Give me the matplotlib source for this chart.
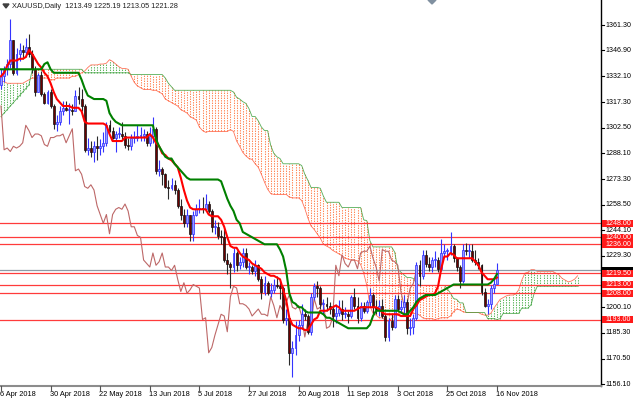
import numpy as np
import pandas as pd
import matplotlib
matplotlib.use("Agg")
import matplotlib.pyplot as plt
from matplotlib import transforms
from matplotlib.patches import Rectangle, Polygon
from matplotlib.lines import Line2D

plt.rcParams['font.family'] = ['Liberation Sans', 'DejaVu Sans']

# XAUUSD daily bars, 6 Apr 2018 .. 16 Nov 2018
dates = pd.bdate_range('2018-04-06', periods=161)

opens = [
    1327, 1332, 1336, 1339, 1353, 1334, 1345, 1347, 1346, 1349,
    1345, 1336, 1323, 1333, 1322, 1317, 1323, 1315, 1305, 1306,
    1312, 1314, 1313, 1313, 1312, 1321, 1319, 1315, 1290, 1291,
    1289, 1292, 1291, 1292, 1294, 1304, 1301, 1297, 1299, 1299,
    1298, 1293, 1292, 1297, 1297, 1298, 1298, 1299, 1294, 1298,
    1302, 1278, 1279, 1276, 1269, 1268, 1270, 1267, 1258, 1253,
    1248, 1253, 1242, 1253, 1256, 1257, 1256, 1259, 1255, 1246,
    1246, 1241, 1240, 1227, 1225, 1223, 1231, 1224, 1226, 1231,
    1223, 1223, 1221, 1224, 1216, 1209, 1214, 1208, 1210, 1213,
    1212, 1211, 1193, 1194, 1174, 1177, 1184, 1190, 1196, 1195,
    1186, 1206, 1212, 1211, 1202, 1202, 1201, 1199, 1195, 1197,
    1199, 1196, 1196, 1195, 1206, 1201, 1194, 1201, 1198, 1203,
    1207, 1200, 1199, 1201, 1195, 1183, 1192, 1189, 1205, 1199,
    1200, 1203, 1188, 1189, 1194, 1224, 1218, 1230, 1225, 1223,
    1227, 1227, 1222, 1231, 1232, 1232, 1235, 1228, 1223, 1215,
    1233, 1232, 1232, 1227, 1226, 1224, 1209, 1201, 1202, 1211,
    1213.49]
highs = [
    1336, 1338, 1342, 1365, 1353, 1348, 1351, 1350, 1354, 1356,
    1347, 1338, 1334, 1335, 1323, 1324, 1325, 1316, 1310, 1315,
    1318, 1318, 1317, 1316, 1324, 1326, 1325, 1316, 1297, 1295,
    1295, 1298, 1296, 1300, 1306, 1307, 1303, 1301, 1303, 1306,
    1300, 1297, 1299, 1301, 1304, 1303, 1302, 1301, 1303, 1309,
    1303, 1284, 1280, 1277, 1273, 1274, 1273, 1268, 1262, 1256,
    1256, 1253, 1255, 1259, 1262, 1263, 1265, 1261, 1256, 1250,
    1249, 1244, 1245, 1231, 1226, 1234, 1232, 1229, 1234, 1234,
    1226, 1224, 1227, 1225, 1218, 1218, 1215, 1214, 1216, 1218,
    1215, 1212, 1199, 1194, 1181, 1192, 1193, 1202, 1199, 1196,
    1208, 1214, 1215, 1212, 1205, 1206, 1203, 1201, 1202, 1204,
    1204, 1200, 1198, 1207, 1211, 1206, 1203, 1203, 1204, 1211,
    1208, 1204, 1204, 1205, 1196, 1194, 1196, 1207, 1207, 1204,
    1207, 1205, 1194, 1196, 1226, 1227, 1233, 1233, 1229, 1229,
    1232, 1229, 1239, 1236, 1234, 1243, 1236, 1229, 1224, 1236,
    1237, 1236, 1236, 1233, 1228, 1225, 1211, 1205, 1213, 1216,
    1225.19]
lows = [
    1325, 1329, 1333, 1337, 1333, 1333, 1341, 1342, 1343, 1343,
    1334, 1321, 1323, 1321, 1316, 1316, 1314, 1302, 1301, 1304,
    1310, 1312, 1305, 1310, 1312, 1316, 1312, 1289, 1287, 1286,
    1283, 1284, 1287, 1289, 1292, 1300, 1296, 1289, 1297, 1296,
    1291, 1290, 1290, 1294, 1295, 1295, 1295, 1292, 1292, 1294,
    1276, 1275, 1270, 1268, 1262, 1267, 1265, 1257, 1250, 1246,
    1246, 1238, 1238, 1252, 1254, 1254, 1255, 1254, 1243, 1242,
    1239, 1236, 1226, 1219, 1211, 1220, 1221, 1222, 1223, 1222,
    1219, 1219, 1218, 1215, 1205, 1207, 1207, 1206, 1208, 1211,
    1205, 1191, 1190, 1167, 1160, 1173, 1181, 1188, 1193, 1185,
    1184, 1204, 1206, 1199, 1196, 1198, 1196, 1189, 1191, 1195,
    1193, 1194, 1191, 1194, 1199, 1191, 1192, 1197, 1197, 1200,
    1196, 1196, 1195, 1194, 1181, 1181, 1187, 1188, 1198, 1197,
    1196, 1185, 1184, 1185, 1193, 1212, 1216, 1223, 1221, 1220,
    1223, 1220, 1221, 1229, 1227, 1230, 1226, 1221, 1211, 1214,
    1230, 1228, 1226, 1224, 1222, 1207, 1200, 1196, 1199, 1208,
    1213.05]
closes = [
    1332, 1336, 1339, 1353, 1334, 1345, 1347, 1346, 1349, 1345,
    1336, 1323, 1333, 1322, 1317, 1323, 1315, 1305, 1306, 1312,
    1314, 1313, 1313, 1312, 1321, 1319, 1315, 1290, 1291, 1289,
    1292, 1291, 1292, 1294, 1304, 1301, 1297, 1299, 1299, 1298,
    1293, 1292, 1297, 1297, 1298, 1298, 1299, 1294, 1298, 1302,
    1278, 1279, 1276, 1269, 1268, 1270, 1267, 1258, 1253, 1248,
    1253, 1242, 1253, 1256, 1257, 1256, 1259, 1255, 1246, 1246,
    1241, 1240, 1227, 1225, 1223, 1231, 1224, 1226, 1231, 1223,
    1223, 1221, 1224, 1216, 1209, 1214, 1208, 1210, 1213, 1212,
    1211, 1193, 1194, 1174, 1177, 1184, 1190, 1196, 1195, 1186,
    1206, 1212, 1211, 1202, 1202, 1201, 1199, 1195, 1197, 1199,
    1196, 1196, 1195, 1206, 1201, 1194, 1201, 1198, 1203, 1207,
    1200, 1199, 1201, 1195, 1183, 1192, 1189, 1205, 1199, 1200,
    1203, 1188, 1189, 1194, 1224, 1218, 1230, 1225, 1223, 1227,
    1227, 1222, 1231, 1232, 1232, 1235, 1228, 1223, 1215, 1233,
    1232, 1232, 1227, 1226, 1224, 1209, 1201, 1202, 1211, 1213.49,
    1221.28]

# Ichimoku lines
tenkan = [
    1332, 1334, 1338, 1341, 1341, 1341, 1342, 1342, 1343, 1347,
    1345, 1342, 1339, 1337, 1334, 1332, 1328, 1323, 1319, 1317,
    1315, 1315, 1315, 1314, 1314, 1314, 1312, 1306, 1305, 1305,
    1305, 1305, 1305, 1305, 1304, 1299, 1295, 1295, 1295, 1295,
    1297, 1297, 1297, 1297, 1297, 1297, 1297, 1297, 1299, 1297,
    1294, 1292, 1288, 1287, 1285, 1284, 1282, 1280, 1274, 1267,
    1261, 1257, 1256, 1256, 1256, 1256, 1256, 1253, 1252, 1252,
    1252, 1250, 1246, 1240, 1235, 1234, 1234, 1231, 1229, 1228,
    1227, 1225, 1224, 1223, 1222, 1220, 1219, 1218, 1218, 1217,
    1216, 1210, 1204, 1194, 1190, 1189, 1188, 1188, 1187, 1187,
    1190, 1193, 1194, 1198, 1198, 1198, 1199, 1200, 1201, 1200,
    1198, 1198, 1198, 1198, 1198, 1199, 1200, 1200, 1200, 1200,
    1200, 1200, 1199, 1197, 1196, 1196, 1196, 1196, 1196, 1195,
    1195, 1195, 1195, 1199, 1201, 1204, 1205, 1206, 1207, 1207,
    1208, 1212, 1222, 1229, 1229, 1231, 1230, 1228, 1228, 1228,
    1228, 1228, 1228, 1226, 1224, 1220, 1218, 1216, 1216, 1216,
    1217]
kijun = [
    1336, 1336, 1336, 1336, 1336, 1336, 1336, 1336, 1336, 1336,
    1336, 1336, 1336, 1336, 1339, 1340, 1336, 1334, 1334, 1334,
    1334, 1334, 1334, 1334, 1334, 1334, 1330, 1325, 1321, 1320,
    1319, 1319, 1319, 1319, 1318, 1311, 1308, 1306, 1305, 1304,
    1304, 1304, 1304, 1304, 1304, 1304, 1304, 1304, 1304, 1304,
    1296, 1292, 1289, 1286, 1285, 1285, 1282, 1280, 1278, 1276,
    1274, 1273, 1273, 1273, 1273, 1273, 1273, 1273, 1273, 1273,
    1273, 1272, 1267, 1262, 1258, 1255, 1250, 1248, 1243, 1242,
    1241, 1240, 1239, 1238, 1237, 1236, 1236, 1236, 1236, 1236,
    1233, 1229, 1221, 1208, 1203, 1202, 1200, 1200, 1198, 1197,
    1197, 1197, 1197, 1197, 1196, 1194, 1194, 1193, 1192, 1191,
    1190, 1189, 1188, 1188, 1188, 1188, 1188, 1188, 1188, 1190,
    1195, 1198, 1198, 1198, 1198, 1198, 1198, 1198, 1198, 1197,
    1196, 1196, 1198, 1200, 1203, 1205, 1206, 1207, 1207, 1207,
    1207, 1208, 1209, 1210, 1211, 1212, 1213, 1213, 1213, 1213,
    1213, 1213, 1213, 1213, 1213, 1213, 1213, 1213, 1214, 1216,
    1219]
# cloud spans, they run 26 bars past the last candle
span_a = [
    1329, 1329, 1328, 1328, 1328, 1328, 1328, 1328, 1329, 1330,
    1331, 1331, 1331, 1331, 1331, 1331, 1330, 1330, 1331, 1331,
    1331, 1331, 1331, 1332, 1332, 1333, 1334, 1335, 1337, 1338.5,
    1338.5, 1338.5, 1339, 1339, 1339.5, 1341.5, 1340.5, 1339, 1337.5, 1336.5,
    1336.5, 1336, 1332, 1328.5, 1326.5, 1325.5, 1324.5, 1324.5, 1324.5, 1324,
    1324, 1323, 1322, 1319, 1318, 1317, 1316, 1315, 1313, 1312,
    1311, 1309, 1308, 1307, 1303, 1301, 1300, 1300.5, 1300.5, 1300.5,
    1300.5, 1300.5, 1300.5, 1300.5, 1301.5, 1300.5, 1295, 1292, 1288.5, 1286.5,
    1285, 1284.5, 1282, 1280, 1276, 1271.5, 1267.5, 1265, 1264.5, 1264.5,
    1264.5, 1264.5, 1264.5, 1263, 1262.5, 1262.5, 1262.5, 1261, 1256.5, 1251,
    1246.5, 1244.5, 1242, 1239.5, 1236, 1235, 1234, 1232.5, 1231.5, 1230.5,
    1229.5, 1228, 1227.5, 1227, 1227, 1226.5, 1224.5, 1219.5, 1212.5, 1201,
    1196.5, 1195.5, 1194, 1194, 1192.5, 1192, 1193.5, 1195, 1195.5, 1197.5,
    1197, 1196, 1196.5, 1196.5, 1196.5, 1195.5, 1194, 1193.5, 1193.5, 1193.5,
    1193, 1193.5, 1194, 1194, 1194, 1195, 1197.5, 1199, 1198.5, 1197.5,
    1197, 1197, 1197, 1197, 1197, 1196, 1195.5, 1195.5, 1196.5, 1199.5,
    1202, 1204.5, 1205.5, 1206.5, 1207, 1207, 1207.5, 1210, 1215.5, 1219.5,
    1220, 1221.5, 1221.5, 1220.5, 1220.5, 1220.5, 1220.5, 1220.5, 1220.5, 1219.5,
    1218.5, 1216.5, 1215.5, 1214.5, 1215, 1216, 1218]
span_b = [
    1309, 1311, 1313, 1315, 1317, 1319, 1321, 1323, 1325, 1327,
    1335, 1336, 1336, 1336, 1336, 1336, 1336, 1336, 1336, 1336,
    1336, 1336, 1336, 1336, 1336, 1336, 1336, 1334, 1334, 1334,
    1334, 1334, 1334, 1334, 1334, 1334, 1334, 1334, 1334, 1334,
    1334, 1334, 1333, 1333, 1333, 1333, 1333, 1333, 1333, 1333,
    1333, 1333, 1333, 1331, 1328, 1326, 1324, 1324, 1324, 1324,
    1324, 1324, 1324, 1324, 1324, 1324, 1324, 1324, 1324, 1324,
    1324, 1324, 1324, 1324, 1324, 1323, 1320, 1319, 1317.5, 1316.5,
    1313.5, 1309, 1309, 1306.5, 1303, 1301, 1301, 1292.5, 1288, 1286,
    1285, 1282, 1282, 1282, 1282, 1282, 1282, 1281, 1276, 1272.5,
    1268.5, 1268.5, 1268.5, 1268, 1263.5, 1260, 1260, 1260, 1260, 1260,
    1257, 1257, 1257, 1257, 1257, 1257, 1257, 1250, 1249.5, 1238,
    1234.5, 1234.5, 1234.5, 1234.5, 1234.5, 1234.5, 1234.5, 1231.5, 1222, 1220,
    1218.5, 1217, 1217, 1216.5, 1214, 1212.5, 1212.5, 1212.5, 1212.5, 1212.5,
    1212.5, 1212.5, 1212.5, 1212.5, 1210.5, 1208, 1205, 1204.5, 1202.5, 1202.5,
    1197, 1197, 1197, 1197, 1197, 1197, 1197, 1193.5, 1193.5, 1193.5,
    1193, 1193.5, 1196.5, 1196.5, 1196.5, 1196.5, 1196.5, 1196.5, 1199.5, 1199.5,
    1199.5, 1201.5, 1208, 1212, 1212, 1212, 1212, 1212, 1212, 1212,
    1212, 1212, 1212, 1212, 1212, 1212, 1212]

levels = [1248.00, 1240.00, 1236.00, 1219.50, 1213.00, 1208.00, 1193.00]
bid = 1221.28
price_ticks = [1361.30, 1346.90, 1332.10, 1317.30, 1302.50, 1288.10, 1273.30,
               1258.50, 1244.10, 1229.30, 1200.10, 1185.30, 1170.50, 1156.10]

W, H = 633, 400
PX = 3.1          # pixels per bar
AX_W, AX_B = 601, 386
FS = 5.1

o = np.array(opens, float)
c = np.array(closes, float)
hi = np.array(highs, float)
lo = np.array(lows, float)
sa = np.array(span_a, float)
sb = np.array(span_b, float)
x = np.arange(len(c))

fig = plt.figure(figsize=(W / 100, H / 100), dpi=100)
ax = fig.add_axes([0, (H - AX_B) / H, AX_W / W, AX_B / H])
ax.set_xlim(-1 / PX, (AX_W - 1) / PX)
ax.set_ylim(1155.0, 1375.6)
ax.set_xticks([])
ax.set_yticks([])
for s in ['left', 'top']:
    ax.spines[s].set_visible(False)
ax.spines['right'].set_color('black')
ax.spines['right'].set_linewidth(1.0)
ax.spines['bottom'].set_color('#8c8c8c')
ax.spines['bottom'].set_linewidth(1.5)

# cloud, dotted columns
xc = np.arange(len(sa))
bull_cloud = sa >= sb
cols = ['#4cae4c' if b else '#ff7a45' for b in bull_cloud]
ax.vlines(xc, np.minimum(sa, sb), np.maximum(sa, sb), colors=cols,
          linestyles=(0, (1.3, 1.1)), linewidth=0.75, alpha=0.9, zorder=1)
ax.plot(xc, sa, color='#ff5a3c', lw=0.6, alpha=0.85, zorder=1.5)
ax.plot(xc, sb, color='#3a9f3a', lw=0.6, alpha=0.85, zorder=1.5)

# levels
for lv in levels:
    ax.axhline(lv, color='#ff3b3b', lw=0.9, zorder=2)
ax.axhline(bid, color='#8e9aa6', lw=0.9, zorder=2)

# chikou span
ax.plot(x[:len(c) - 26], c[26:], color='#bd6868', lw=0.8, zorder=2.5)

# candles
up = c >= o
ax.vlines(x[up], lo[up], hi[up], color='#3434ff', lw=0.8, zorder=3)
ax.vlines(x[~up], lo[~up], hi[~up], color='#2a2a2a', lw=0.8, zorder=3)
body_lo = np.minimum(o, c)
body_h = np.maximum(np.abs(c - o), 0.5)
ax.bar(x[up], body_h[up], bottom=body_lo[up], width=0.6, color='#9a9aff',
       edgecolor='#2a2aff', linewidth=0.5, zorder=3.2)
ax.bar(x[~up], body_h[~up], bottom=body_lo[~up], width=0.6, color='#6a0000',
       edgecolor='#111111', linewidth=0.5, zorder=3.2)

# tenkan / kijun
ax.plot(x, tenkan, color='#ff0000', lw=1.5, zorder=4)
ax.plot(x, kijun, color='#008000', lw=1.5, zorder=4)

# right price scale
tr = transforms.blended_transform_factory(fig.transFigure, ax.transData)
for p in price_ticks + [1214.70]:
    fig.add_artist(Line2D([AX_W / W, (AX_W + 3) / W], [p, p], transform=tr,
                          color='black', lw=0.8))
for p in price_ticks:
    fig.text(605.5 / W, p, f'{p:.2f}', transform=tr, fontsize=FS,
             ha='left', va='center', color='black')

# bid marker sits behind the 1219.50 box, only a dark sliver shows
fig.add_artist(Rectangle((602 / W, bid - 2.0), 31 / W, 4.0, transform=tr,
                         facecolor='black', edgecolor='none', zorder=5))
for lv in levels:
    fig.add_artist(Rectangle((602 / W, lv - 2.0), 31 / W, 4.0, transform=tr,
                             facecolor='#ff1a1a', edgecolor='none', zorder=6))
    fig.text(605.5 / W, lv, f'{lv:.2f}', transform=tr, fontsize=FS, ha='left',
             va='center', color='white', zorder=7)

# date scale
for i in range(0, len(c), 16):
    xp = 1 + PX * i
    fig.add_artist(Line2D([xp / W, xp / W], [1 - AX_B / H, 1 - (AX_B + 4) / H],
                          color='#555555', lw=0.8))
    d = dates[i]
    fig.text((xp - 1) / W, 1 - 394 / H, f'{d.day} {d.strftime("%b %Y")}',
             fontsize=5.3, ha='left', va='center', color='black')

# header
fig.add_artist(Polygon([[3 / W, 1 - 4 / H], [9 / W, 1 - 4 / H], [6 / W, 1 - 8 / H]],
                       closed=True, transform=fig.transFigure, color='#404040'))
fig.text(12 / W, 1 - 6 / H, 'XAUUSD,Daily  %.2f %.2f %.2f %.2f' % (o[-1], hi[-1], lo[-1], c[-1]),
         fontsize=5.3, ha='left', va='center', color='#202020')
# chart shift marker
fig.add_artist(Polygon([[428 / W, 1.0], [436 / W, 1.0], [432 / W, 1 - 4 / H]],
                       closed=True, transform=fig.transFigure, color='#8090a0'))

fig.savefig('out.png', dpi=100)
